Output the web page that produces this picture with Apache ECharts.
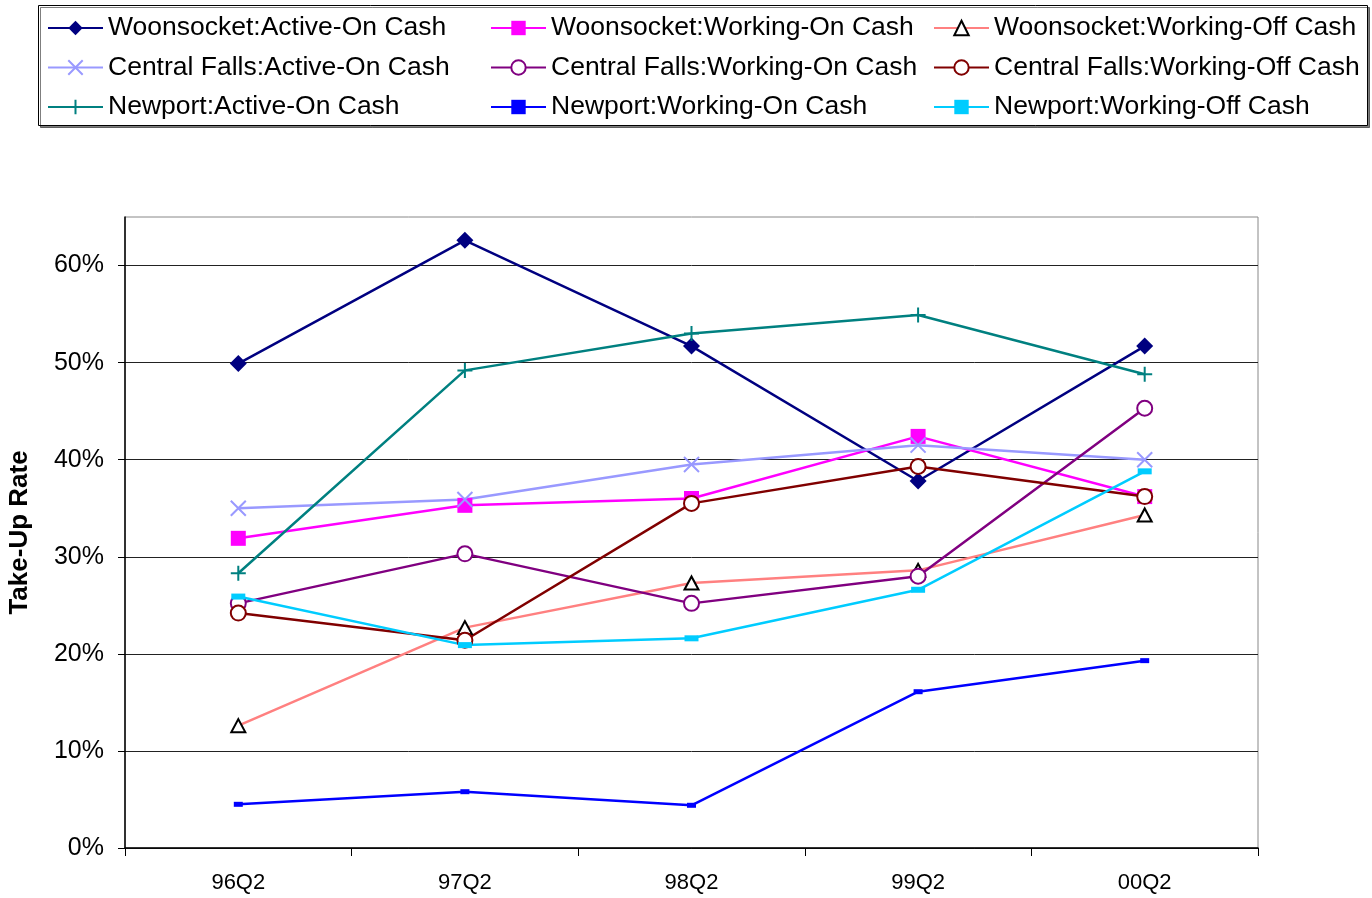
<!DOCTYPE html>
<html>
<head>
<meta charset="utf-8">
<script src="https://cdn.jsdelivr.net/npm/echarts@6/dist/echarts.min.js"></script>
<style>
  html, body { margin: 0; padding: 0; background: #fff; }
  #chart { width: 1372px; height: 898px; }
</style>
</head>
<body>
<div id="chart"></div>
<script>
const quarters = ['96Q2', '97Q2', '98Q2', '99Q2', '00Q2']
const yTicks = [0, 0.1, 0.2, 0.3, 0.4, 0.5, 0.6]

// take-up rates
const woonActiveOn = [0.499, 0.626, 0.517, 0.378, 0.517]
const woonWorkingOn = [0.319, 0.353, 0.360, 0.424, 0.362]
const woonWorkingOff = [0.126, 0.227, 0.273, 0.286, 0.343]
const cfActiveOn = [0.350, 0.359, 0.395, 0.415, 0.400]
const cfWorkingOn = [0.252, 0.303, 0.252, 0.280, 0.453]
const cfWorkingOff = [0.242, 0.214, 0.355, 0.393, 0.362]
const npActiveOn = [0.283, 0.492, 0.530, 0.549, 0.488]
const npWorkingOn = [0.045, 0.058, 0.044, 0.161, 0.193]
const npWorkingOff = [0.259, 0.209, 0.216, 0.266, 0.388]

const FONT = '"Liberation Sans", Arial, sans-serif'
const X_PATH = 'path://M0,0L10,10M10,0L0,10'
const PLUS_PATH = 'path://M5,0L5,10M0,5L10,5'

function line(name, data, color, symbol, size, itemStyle) {
  return {
    name,
    type: 'line',
    data,
    symbol,
    symbolSize: size,
    showAllSymbol: true,
    lineStyle: { color, width: 2.5 },
    itemStyle: Object.assign({ color, borderColor: color, borderWidth: 0 }, itemStyle || {}),
    emphasis: { disabled: true },
    z: 3
  }
}

const series = [
  line('Woonsocket:Active-On Cash', woonActiveOn, '#000080', 'diamond', 17),
  line('Woonsocket:Working-On Cash', woonWorkingOn, '#FF00FF', 'rect', 15),
  line('Woonsocket:Working-Off Cash', woonWorkingOff, '#FF8080', 'triangle', [14, 13],
    { color: '#fff', borderColor: '#000', borderWidth: 2 }),
  line('Central Falls:Active-On Cash', cfActiveOn, '#9999FF', X_PATH, 15,
    { color: 'transparent', borderColor: '#9999FF', borderWidth: 2 }),
  line('Central Falls:Working-On Cash', cfWorkingOn, '#800080', 'circle', 15,
    { color: '#fff', borderColor: '#800080', borderWidth: 2 }),
  line('Central Falls:Working-Off Cash', cfWorkingOff, '#800000', 'circle', 15,
    { color: '#fff', borderColor: '#800000', borderWidth: 2 }),
  line('Newport:Active-On Cash', npActiveOn, '#008080', PLUS_PATH, 15,
    { color: 'transparent', borderColor: '#008080', borderWidth: 2 }),
  line('Newport:Working-On Cash', npWorkingOn, '#0000FF', 'rect', [9, 5]),
  line('Newport:Working-Off Cash', npWorkingOff, '#00CCFF', 'rect', [14, 6])
]

const legendCommon = {
  orient: 'vertical',
  top: 14,
  padding: 0,
  itemWidth: 55,
  itemHeight: 18,
  itemGap: 11.5,
  selectedMode: false,
  textStyle: { fontFamily: FONT, fontSize: 26.5, color: '#000', lineHeight: 28 }
}

const chart = echarts.init(document.getElementById('chart'))
chart.setOption({
  backgroundColor: '#fff',
  animation: false,
  textStyle: { fontFamily: FONT },
  graphic: [{
    type: 'rect',
    left: 38, top: 5,
    shape: { width: 1329, height: 120 },
    style: { fill: '#fff', stroke: '#000', lineWidth: 1, shadowColor: 'rgba(0,0,0,0.5)', shadowOffsetX: 2, shadowOffsetY: 2 },
    z: -1
  }],
  legend: [
    Object.assign({ left: 47, data: [series[0].name, series[3].name, series[6].name] }, legendCommon),
    Object.assign({ left: 490, data: [series[1].name, series[4].name, series[7].name] }, legendCommon),
    Object.assign({ left: 933, data: [series[2].name, series[5].name, series[8].name] }, legendCommon)
  ],
  grid: {
    left: 125, right: 114, top: 217, bottom: 50,
    outerBoundsMode: 'none',
    containLabel: false,
    show: true, borderColor: '#888', borderWidth: 1
  },
  xAxis: {
    type: 'category',
    data: quarters,
    boundaryGap: true,
    axisLine: { lineStyle: { color: '#000', width: 1.5 } },
    axisTick: { show: true, length: 8, inside: false, lineStyle: { color: '#000' } },
    axisLabel: { fontFamily: FONT, fontSize: 22, color: '#000', margin: 24 },
    splitLine: { show: false }
  },
  yAxis: {
    type: 'value',
    min: 0,
    max: 0.65,
    interval: 0.1,
    name: 'Take-Up Rate',
    nameLocation: 'middle',
    nameGap: 92,
    nameTextStyle: { fontFamily: FONT, fontSize: 26, fontWeight: 'bold', color: '#000' },
    axisLine: { show: true, lineStyle: { color: '#000', width: 1.5 } },
    axisTick: { show: true, length: 7, customValues: yTicks, lineStyle: { color: '#000' } },
    axisLabel: {
      fontFamily: FONT, fontSize: 25, color: '#000', margin: 21,
      customValues: yTicks,
      formatter: v => Math.round(v * 100) + '%'
    },
    splitLine: { show: true, lineStyle: { color: '#222', width: 1 } }
  },
  series
})
</script>
</body>
</html>
